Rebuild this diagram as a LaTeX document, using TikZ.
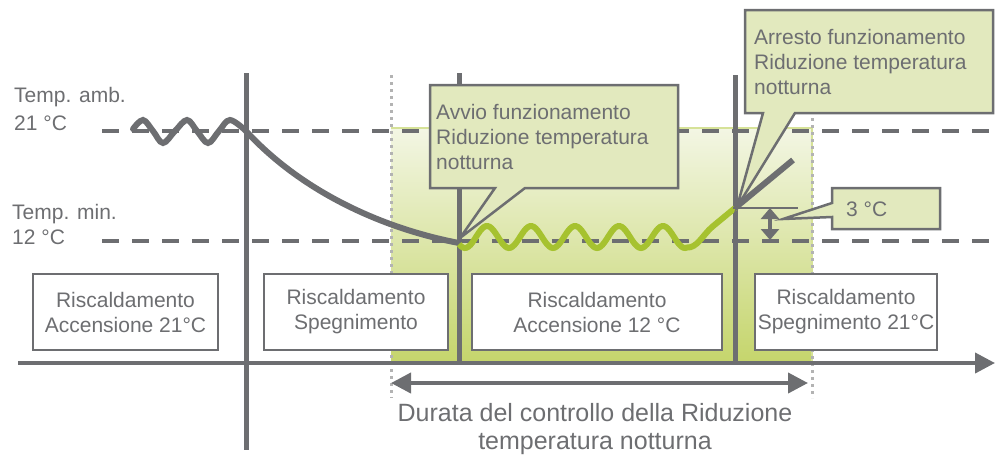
\documentclass[tikz,border=0pt]{standalone}
\usepackage{fontspec}
\setmainfont{Liberation Sans}
\usetikzlibrary{arrows.meta}
\definecolor{dgray}{HTML}{6D6E71}
\definecolor{lgray}{HTML}{B3B3B3}
\definecolor{lgreen}{HTML}{A6C22F}
\definecolor{calfill}{HTML}{E2E9BE}
\definecolor{gradbot}{HTML}{C5D56C}
\definecolor{gradtop}{HTML}{F3F6E4}
\tikzset{
  txt/.style={text=dgray, inner sep=0pt, font=\fontsize{21}{25}\selectfont},
  boxn/.style={txt, draw=dgray, line width=2.5pt, fill=white, align=center},
  callout/.style={draw=dgray, line width=2.5pt, fill=calfill, line join=miter},
  dashln/.style={draw=dgray, line width=4pt, dash pattern=on 17pt off 13pt},
  dotln/.style={draw=lgray, line width=3pt, dash pattern=on 3pt off 4pt},
  vline/.style={draw=dgray, line width=5pt},
  grayc/.style={draw=dgray, line width=6pt},
  greenc/.style={draw=lgreen, line width=6pt},
}
\begin{document}
\begin{tikzpicture}[x=1pt,y=-1pt]
\useasboundingbox (0,0) rectangle (995,461);
% gradient region
\shade[top color=gradtop, bottom color=gradbot] (391,128) rectangle (812,362);
\draw[draw=gradbot!70, line width=1.2pt] (391,128) -- (812,128) -- (812,362);
% dashed reference lines
\coordinate (d1a) at (102,131); \coordinate (d1b) at (995,131);
\coordinate (d2a) at (102,241); \coordinate (d2b) at (995,241);
\draw[dashln] (d1a) -- (d1b);
\draw[dashln] (d2a) -- (d2b);
% dotted verticals
\coordinate (p1a) at (391,75); \coordinate (p1b) at (391,398);
\coordinate (p2a) at (812,118); \coordinate (p2b) at (812,398);
\draw[dotln] (p1a) -- (p1b);
\draw[dotln] (p2a) -- (p2b);
% vertical solid lines
\coordinate (v1a) at (246,73); \coordinate (v1b) at (246,450);
\coordinate (v2a) at (459,73); \coordinate (v2b) at (459,362);
\coordinate (v3a) at (735,75); \coordinate (v3b) at (735,362);
\draw[vline] (v1a) -- (v1b);
\draw[vline] (v2a) -- (v2b);
\draw[vline] (v3a) -- (v3b);
% temperature curves
\coordinate (c0) at (246,131);
\coordinate (c1) at (459,243);
\coordinate (c2) at (735,208);
\coordinate (c3) at (793,160);
\draw[grayc, line cap=round] plot[smooth, tension=0.6] coordinates {(133,129) (143,120) (153,131) (163,143) (175,131) (187,120) (197,131) (208,143) (219,131) (230,120) (246,131)};
\draw[grayc] (c0) .. controls (300,190) and (380,228) .. (c1);
\draw[greenc] plot[domain=459:687, samples=120] (\x, {237-11*cos((\x-487)*8.1818)})
  .. controls (697,248) and (702,236) .. (712,227) -- (c2);
\draw[grayc] (c2) -- (c3);
% 3 degree marker
\coordinate (h1) at (733,208); \coordinate (h2) at (798,208);
\draw[dgray, line width=1.5pt] (h1) -- (h2);
\coordinate (ua) at (770,208); \coordinate (ub) at (770,240);
\draw[dgray, line width=3.5pt, {Triangle[length=11pt,width=18pt]}-{Triangle[length=11pt,width=18pt]}] (ua) -- (ub);
% callout 3 C
\draw[callout] (832,188) -- (940,188) -- (940,229) -- (832,229) -- (832,217) -- (783,219) -- (832,203) -- cycle;
\node[txt, anchor=west] (t3) at (846,209) {3 °C};
% callout Avvio
\draw[callout] (430,85) -- (678,85) -- (678,188) -- (525,188) -- (460,238) -- (495,188) -- (430,188) -- cycle;
\node[txt, anchor=west, align=left] (tavvio) at (436,137) {Avvio funzionamento\\Riduzione temperatura\\notturna};
% callout Arresto
\draw[callout] (745,10) -- (993,10) -- (993,113) -- (795,113) -- (737,207) -- (763,113) -- (745,113) -- cycle;
\node[txt, anchor=west, align=left] (tarr) at (754,62) {Arresto funzionamento\\Riduzione temperatura\\notturna};
% left labels
\node[txt, anchor=west, align=left, font=\fontsize{21}{28}\selectfont] (lamb) at (14,109) {Temp. amb.\\21 °C};
\node[txt, anchor=west, align=left] (lmin) at (12,224) {Temp. min.\\12 °C};
% bottom boxes
\node[boxn, minimum width=185pt, minimum height=76pt] (b1) at (125.5,312) {Riscaldamento\\Accensione 21°C};
\node[boxn, minimum width=184pt, minimum height=76pt] (b2) at (356,312) {Riscaldamento\\Spegnimento};
\node[boxn, minimum width=250pt, minimum height=76pt] (b3) at (597,312) {Riscaldamento\\Accensione 12 °C};
\node[boxn, minimum width=182pt, minimum height=76pt] (b4) at (846,312) {Riscaldamento\\Spegnimento 21°C};
% time axis
\coordinate (ax0) at (18,363); \coordinate (ax1) at (995,363);
\draw[dgray, line width=4pt, -{Triangle[length=20pt,width=20pt]}] (ax0) -- (ax1);
% duration arrow
\coordinate (da) at (391,383); \coordinate (db) at (808,383);
\draw[dgray, line width=4pt, {Triangle[length=20pt,width=20pt]}-{Triangle[length=20pt,width=20pt]}] (da) -- (db);
\node[txt, align=center, font=\fontsize{25}{28}\selectfont] (cap) at (595,429) {Durata del controllo della Riduzione\\temperatura notturna};
\end{tikzpicture}
\end{document}
